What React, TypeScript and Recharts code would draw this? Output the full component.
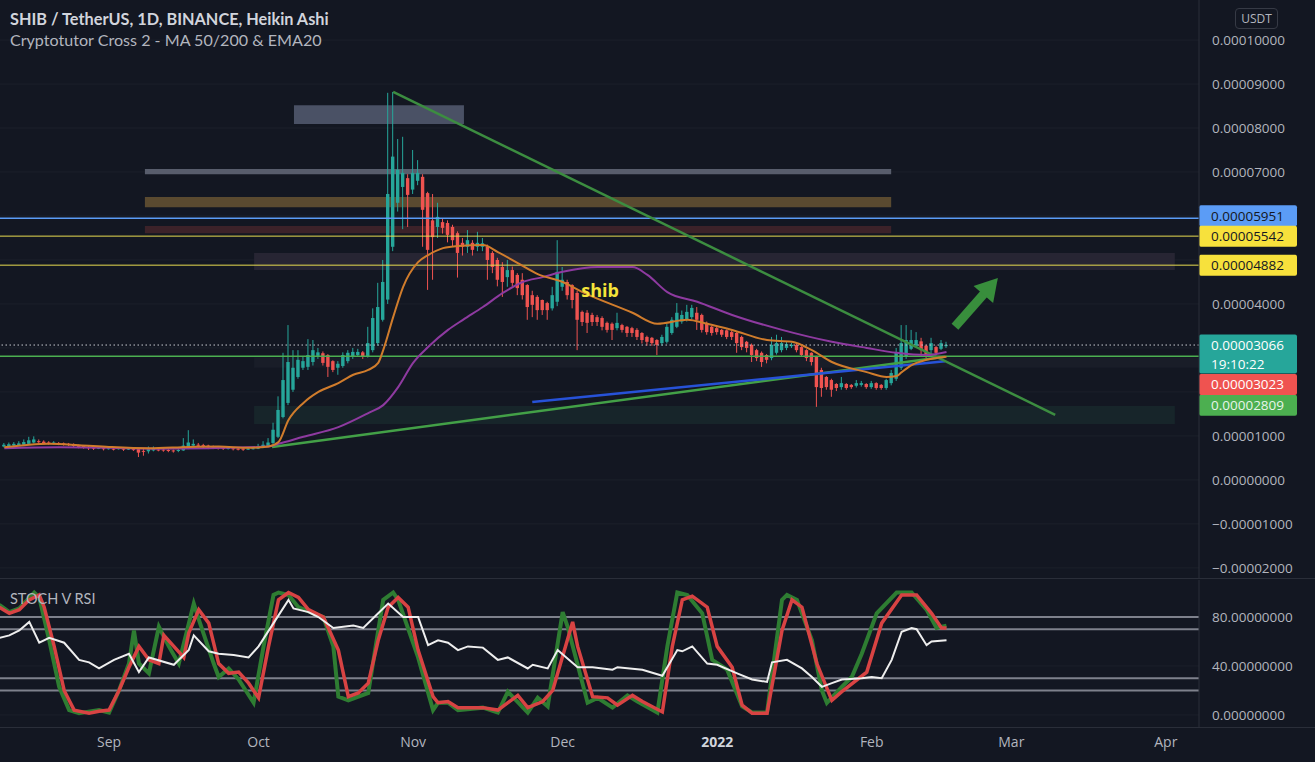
import React from 'react';
import {
  ComposedChart,
  LineChart,
  Line,
  Bar,
  XAxis,
  YAxis,
  CartesianGrid,
  ReferenceLine,
  ReferenceArea,
  ReferenceDot,
} from 'recharts';

// ---------- layout constants ----------
const W = 1315;
const H = 762;
const MAIN_H = 578;
const OSC_H = 184;
const AXIS_W = 116;
const BG = '#131722';
const UP = '#26a69a';
const DOWN = '#ef5350';
const TXT = '#b2b5be';
const FONT = "'Open Sans', 'Noto Sans', sans-serif";

// ---------- data (prices in units of 1e-5 USDT, days since 2021-09-01) ----------
const START_DAY = -21;
const X_DOMAIN: [number, number] = [-21.87, 218.65];

const haOpen = [
  0.76, 0.77, 0.78, 0.79, 0.8, 0.82, 0.85, 0.88, 0.87, 0.85,
  0.84, 0.84, 0.83, 0.82, 0.81, 0.79, 0.77, 0.75, 0.74, 0.72,
  0.72, 0.71, 0.71, 0.71, 0.71, 0.7, 0.7, 0.7, 0.66, 0.65,
  0.67, 0.69, 0.69, 0.68, 0.67, 0.66, 0.67, 0.72, 0.78, 0.8,
  0.79, 0.78, 0.76, 0.74, 0.73, 0.715, 0.72, 0.71, 0.71, 0.7,
  0.7, 0.71, 0.73, 0.77, 0.84, 0.98, 1.43, 1.75, 2.05, 2.34,
  2.55, 2.57, 2.68, 2.82, 2.88, 2.84, 2.7, 2.55, 2.59, 2.7,
  2.8, 2.84, 2.9, 2.8, 2.95, 3.11, 3.64, 4.1, 5.3, 6.3,
  6.66, 6.86, 6.6, 6.8, 6.89, 6.52, 5.9, 5.75, 5.86, 5.84,
  5.75, 5.61, 5.39, 5.3, 5.39, 5.3, 5.3, 5.3, 5.16, 5.0,
  4.84, 4.61, 4.77, 4.66, 4.55, 4.43, 4.2, 4.16, 4.09, 4.02,
  3.9, 4.05, 4.39, 4.5, 4.43, 4.25, 3.82, 3.8, 3.75, 3.7,
  3.68, 3.57, 3.55, 3.45, 3.52, 3.48, 3.45, 3.41, 3.34, 3.25,
  3.23, 3.18, 3.11, 3.14, 3.34, 3.48, 3.6, 3.64, 3.7, 3.8,
  3.75, 3.57, 3.48, 3.45, 3.41, 3.4, 3.36, 3.34, 3.25, 3.14,
  3.07, 2.95, 2.89, 2.84, 2.77, 2.89, 2.95, 3.0, 3.04, 3.07,
  3.02, 2.95, 2.89, 2.8, 2.5, 2.34, 2.27, 2.18, 2.11, 2.18,
  2.16, 2.14, 2.16, 2.18, 2.11, 2.2, 2.16, 2.09, 2.2, 2.3,
  2.55, 2.8, 2.98, 3.05, 3.15, 3.05, 2.95, 3.02, 2.98, 3.04,
];
const haClose = [
  0.8, 0.81, 0.82, 0.83, 0.86, 0.9, 0.92, 0.86, 0.84, 0.83,
  0.85, 0.82, 0.81, 0.8, 0.77, 0.75, 0.74, 0.72, 0.71, 0.73,
  0.7, 0.72, 0.7, 0.72, 0.69, 0.71, 0.69, 0.62, 0.64, 0.7,
  0.72, 0.68, 0.67, 0.66, 0.65, 0.68, 0.78, 0.85, 0.82, 0.78,
  0.76, 0.74, 0.73, 0.72, 0.71, 0.725, 0.7, 0.7, 0.69, 0.71,
  0.72, 0.76, 0.8, 0.85, 1.14, 1.59, 2.27, 2.68, 2.55, 2.73,
  2.7, 2.84, 2.95, 2.9, 2.66, 2.57, 2.5, 2.64, 2.84, 2.89,
  2.91, 2.91, 2.8, 3.11, 3.68, 3.93, 4.5, 6.5, 7.35, 7.05,
  6.98, 6.48, 6.98, 6.98, 6.14, 5.23, 5.52, 5.98, 5.73, 5.57,
  5.45, 5.16, 5.3, 5.45, 5.23, 5.39, 5.38, 5.0, 4.84, 4.55,
  4.5, 4.77, 4.48, 4.36, 4.2, 3.93, 3.98, 3.86, 3.86, 3.86,
  4.2, 4.73, 4.55, 4.2, 4.09, 3.64, 3.59, 3.57, 3.59, 3.59,
  3.48, 3.41, 3.41, 3.57, 3.41, 3.34, 3.34, 3.25, 3.18, 3.14,
  3.11, 3.07, 3.25, 3.48, 3.64, 3.8, 3.75, 3.82, 3.91, 3.64,
  3.41, 3.36, 3.34, 3.36, 3.3, 3.25, 3.25, 3.11, 3.02, 3.0,
  2.84, 2.77, 2.68, 2.73, 3.07, 3.11, 3.11, 3.09, 3.07, 2.95,
  2.84, 2.77, 2.68, 2.11, 2.09, 2.11, 2.05, 2.09, 2.2, 2.09,
  2.11, 2.2, 2.2, 2.11, 2.2, 2.09, 2.09, 2.27, 2.43, 2.89,
  3.11, 3.18, 3.18, 3.18, 2.95, 2.84, 3.11, 2.89, 3.11, 3.07,
];
const haHigh = [
  0.84, 0.85, 0.86, 0.88, 0.92, 0.98, 0.99, 0.92, 0.9, 0.88,
  0.88, 0.86, 0.85, 0.84, 0.83, 0.8, 0.79, 0.77, 0.76, 0.76,
  0.74, 0.75, 0.73, 0.74, 0.73, 0.73, 0.72, 0.73, 0.72, 0.76,
  0.76, 0.72, 0.71, 0.7, 0.69, 0.71, 0.95, 1.13, 0.92, 0.84,
  0.82, 0.8, 0.78, 0.76, 0.75, 0.75, 0.74, 0.73, 0.72, 0.74,
  0.76, 0.82, 0.88, 0.95, 1.3, 1.9, 2.89, 3.52, 2.95, 2.95,
  2.8, 3.2, 3.18, 3.0, 2.92, 2.86, 2.72, 2.7, 2.9, 2.95,
  3.0, 2.98, 2.93, 3.48, 3.9, 4.48, 5.0, 8.8, 8.82, 7.75,
  7.8, 6.95, 7.5, 7.27, 6.95, 6.55, 6.5, 6.3, 5.95, 5.9,
  5.8, 5.65, 5.5, 5.68, 5.45, 5.64, 5.5, 5.35, 5.2, 5.05,
  4.95, 5.0, 4.85, 4.7, 4.7, 4.45, 4.3, 4.2, 4.1, 4.05,
  4.39, 5.45, 4.84, 4.55, 4.45, 4.3, 3.85, 3.86, 3.8, 3.75,
  3.72, 3.6, 3.58, 3.8, 3.55, 3.5, 3.48, 3.45, 3.36, 3.28,
  3.25, 3.2, 3.3, 3.55, 3.7, 4.02, 3.85, 3.98, 3.98, 3.93,
  3.78, 3.6, 3.5, 3.48, 3.43, 3.42, 3.4, 3.36, 3.28, 3.16,
  3.1, 2.98, 2.92, 2.86, 3.25, 3.3, 3.25, 3.15, 3.12, 3.1,
  3.04, 2.97, 2.9, 2.82, 2.55, 2.36, 2.3, 2.2, 2.34, 2.2,
  2.18, 2.27, 2.25, 2.2, 2.25, 2.22, 2.18, 2.3, 2.5, 3.0,
  3.52, 3.52, 3.41, 3.36, 3.23, 3.07, 3.23, 3.05, 3.18, 3.14,
];
const haLow = [
  0.74, 0.75, 0.76, 0.77, 0.78, 0.8, 0.83, 0.82, 0.81, 0.8,
  0.81, 0.79, 0.78, 0.77, 0.74, 0.72, 0.71, 0.68, 0.68, 0.7,
  0.67, 0.69, 0.67, 0.69, 0.66, 0.68, 0.66, 0.52, 0.55, 0.6,
  0.65, 0.65, 0.64, 0.63, 0.62, 0.63, 0.66, 0.7, 0.75, 0.74,
  0.72, 0.7, 0.7, 0.69, 0.68, 0.69, 0.67, 0.67, 0.66, 0.68,
  0.69, 0.7, 0.72, 0.75, 0.8, 0.95, 1.4, 1.7, 2.0, 2.3,
  2.5, 2.5, 2.6, 2.75, 2.6, 2.34, 2.45, 2.39, 2.55, 2.65,
  2.75, 2.8, 2.75, 2.78, 2.9, 3.05, 3.6, 4.0, 5.2, 6.1,
  5.7, 5.75, 6.5, 6.7, 5.3, 4.32, 4.55, 5.5, 5.6, 5.4,
  5.3, 4.6, 5.1, 5.16, 5.1, 5.2, 5.2, 4.55, 4.7, 4.4,
  4.16, 4.39, 4.4, 4.2, 4.1, 3.64, 3.7, 3.64, 3.75, 3.64,
  3.85, 3.95, 4.3, 4.1, 3.9, 2.95, 3.5, 3.34, 3.5, 3.5,
  3.4, 3.35, 3.18, 3.4, 3.35, 3.25, 3.25, 3.18, 3.1, 3.05,
  3.05, 2.84, 3.05, 3.1, 3.3, 3.45, 3.55, 3.6, 3.65, 3.41,
  3.35, 3.3, 3.28, 3.3, 3.25, 3.2, 3.18, 2.89, 2.95, 2.9,
  2.68, 2.7, 2.57, 2.65, 2.72, 2.85, 2.9, 2.95, 3.0, 2.9,
  2.8, 2.7, 2.6, 1.66, 1.89, 2.05, 1.89, 2.02, 2.05, 2.05,
  2.07, 2.1, 2.12, 2.07, 2.07, 2.05, 2.05, 2.05, 2.15, 2.25,
  2.5, 2.75, 2.95, 3.0, 2.8, 2.77, 2.84, 2.85, 2.95, 3.0,
];

// EMA20 (orange) and MA50 (purple): [day, price]
const ema20: [number, number][] = [
  [-21, 0.74], [-16, 0.8], [-12, 0.82], [-6, 0.79], [0, 0.75], [8, 0.72], [16, 0.75], [22, 0.76],
  [28, 0.73], [32, 0.76], [34, 0.86], [36, 1.36], [39, 1.75], [42, 2.0], [46, 2.2], [49, 2.39],
  [52, 2.5], [54, 2.66], [55, 2.95], [57, 3.7], [59, 4.39], [62, 4.95], [64, 5.11], [67, 5.27],
  [70, 5.32], [75, 5.34], [78, 5.18], [82, 4.93], [86, 4.68], [91, 4.5], [95, 4.27], [105, 3.8],
  [110, 3.55], [116, 3.64], [120, 3.55], [125, 3.41], [132, 3.18], [137, 3.14], [141, 2.95],
  [145, 2.68], [152, 2.45], [156, 2.34], [158, 2.36], [159, 2.45], [161, 2.61], [164, 2.73],
  [168, 2.8],
];
const ma50: [number, number][] = [
  [-21, 0.72], [-10, 0.74], [0, 0.73], [10, 0.71], [20, 0.72], [32, 0.76], [34, 0.82], [39, 0.98],
  [46, 1.2], [52, 1.52], [55, 1.7], [58, 2.11], [61, 2.66], [64, 3.02], [68, 3.41], [71, 3.64],
  [75, 3.93], [79, 4.25], [83, 4.5], [87, 4.61], [91, 4.73], [98, 4.84], [105, 4.84], [108, 4.66],
  [112, 4.27], [118, 4.05], [125, 3.75], [135, 3.41], [145, 3.14], [152, 3.0], [158, 2.89],
  [164, 2.84], [168, 2.91],
];

// STOCH V RSI pane: [day, value]
const stochK: [number, number][] = [
  [-22, 90], [-20, 84], [-18, 87], [-15, 100], [-14, 96], [-12, 61], [-10, 23], [-8, 4], [-6, 1.5],
  [-2, 4], [0, 2], [2, 20], [4, 42], [5, 69], [6, 42], [8, 34], [10, 72], [12, 56], [14, 42],
  [17, 91], [18, 78], [21, 42], [22, 31], [24, 38], [26, 29], [29, 10], [31, 56], [33, 98],
  [34, 100], [36, 98], [38, 88], [41, 83], [43, 80], [45, 56], [46, 15], [48, 12], [52, 18],
  [54, 69], [55, 94], [57, 100], [58, 94], [62, 47], [65, 4], [66, 10], [68, 10], [70, 4],
  [75, 6], [78, 2], [80, 19], [84, 2], [86, 14], [88, 7], [91, 84], [92, 72], [96, 10], [98, 14],
  [101, 6], [104, 16], [106, 11], [110, 2], [112, 56], [114, 100], [116, 98], [119, 83],
  [121, 45], [124, 37], [127, 7], [129, 2], [132, 2], [135, 94], [136, 98], [138, 94], [141, 61],
  [143, 20], [144, 10], [147, 23], [149, 31], [151, 50], [154, 83], [158, 100], [161, 100],
  [164, 86], [166, 71], [168, 73],
];
const stochD: [number, number][] = [
  [-22, 88], [-20, 83], [-18, 86], [-16, 94], [-14, 98], [-13, 88], [-11, 56], [-9, 20], [-7, 4],
  [-4, 1.5], [-2, 3], [0, 4], [2, 20], [4, 39], [6, 56], [8, 45], [10, 42], [11, 65], [13, 56],
  [15, 47], [16, 67], [18, 86], [20, 75], [22, 42], [24, 34], [26, 35], [28, 26], [30, 14],
  [32, 56], [34, 94], [36, 100], [38, 96], [40, 86], [43, 80], [46, 53], [48, 15], [50, 18],
  [52, 26], [54, 61], [56, 88], [58, 96], [60, 88], [62, 53], [65, 15], [66, 10], [68, 11],
  [70, 6], [75, 6], [78, 4], [82, 16], [84, 6], [87, 11], [89, 20], [93, 76], [94, 56], [97, 15],
  [100, 14], [102, 8], [105, 16], [107, 11], [111, 2.5], [113, 56], [115, 94], [117, 97],
  [120, 88], [122, 56], [125, 39], [127, 8], [129, 1.5], [132, 1.5], [135, 69], [137, 94],
  [139, 88], [142, 42], [145, 12], [147, 19], [152, 35], [155, 75], [159, 98], [162, 98],
  [165, 83], [167, 71], [168, 71],
];
const rsiLine: [number, number][] = [
  [-22, 63], [-20, 65], [-18, 69], [-16, 76], [-14, 59], [-12, 63], [-9, 59], [-6, 45], [-4, 43],
  [-2, 38], [1, 45], [4, 50], [6, 35], [8, 47], [13, 41], [16, 53], [17, 65], [20, 52], [22, 50],
  [25, 49], [28, 47], [30, 56], [33, 75], [36, 94], [37, 87], [40, 84], [42, 80], [45, 71],
  [49, 73], [51, 71], [54, 83], [56, 91], [59, 80], [62, 80], [64, 57], [66, 61], [68, 59],
  [70, 53], [72, 56], [75, 55], [78, 45], [80, 47], [84, 38], [85, 41], [88, 38], [90, 53],
  [94, 39], [97, 39], [101, 37], [102, 39], [107, 37], [111, 32], [114, 53], [115, 52], [117, 56],
  [120, 42], [122, 41], [126, 34], [129, 29], [132, 27], [133, 43], [136, 45], [139, 38],
  [141, 31], [143, 23], [145, 26], [147, 29], [151, 30], [153, 31], [155, 30], [157, 45],
  [159, 68], [161, 71], [162, 70], [164, 57], [165, 60], [168, 61],
];

// axis ticks
const monthTicks = [0, 30, 61, 91, 122, 153, 181, 212];
const monthLabels = ['Sep', 'Oct', 'Nov', 'Dec', '2022', 'Feb', 'Mar', 'Apr'];
const priceTicks = [10, 9, 8, 7, 4, 1, 0, -1, -2];
const priceGrid = [-2, -1, 0, 1, 2, 3, 4, 5, 6, 7, 8, 9, 10];
const oscTicks = [0, 40, 80];
const oscBands = [80, 70, 30, 20];

// drawn levels
const levelBlue = 5.951;
const levelYellow1 = 5.542;
const levelYellow2 = 4.882;
const lastPrice = 3.066;
const redLevel = 3.023;
const greenLevel = 2.809;

// ---------- derived ----------
const candles = haOpen.map((o, i) => ({
  d: START_DAY + i,
  o,
  c: haClose[i],
  h: haHigh[i],
  l: haLow[i],
}));
const toPts = (arr: [number, number][]) => arr.map(([d, v]) => ({ d, v }));

const fmtPrice = (v: number) =>
  (v < 0 ? '\u2212' : '') + (Math.abs(v) * 1e-5).toFixed(8);

// ---------- shapes ----------
const Candle = (props: any) => {
  const { x, y, width, height, payload } = props;
  if (!payload || x == null || y == null) return null;
  const { o, c, h, l } = payload;
  const top = Math.min(y, y + height);
  const hgt = Math.abs(height);
  const range = h - l || 1e-9;
  const per = hgt / range;
  const yO = top + (h - o) * per;
  const yC = top + (h - c) * per;
  const color = c >= o ? UP : DOWN;
  const cx = x + width / 2;
  const bw = 3.4;
  const bTop = Math.min(yO, yC);
  const bH = Math.max(1, Math.abs(yO - yC));
  return (
    <g>
      <line x1={cx} x2={cx} y1={top} y2={top + hgt} stroke={color} strokeWidth={1} />
      <rect x={cx - bw / 2} y={bTop} width={bw} height={bH} fill={color} />
    </g>
  );
};

const Arrow = (p: any) => {
  const { x1, y1, x2, y2 } = p;
  if ([x1, y1, x2, y2].some((v) => v == null || isNaN(v))) return null;
  const ang = Math.atan2(y2 - y1, x2 - x1);
  const head = 22;
  const half = 13;
  const bx = x2 - head * Math.cos(ang);
  const by = y2 - head * Math.sin(ang);
  const nx = -Math.sin(ang);
  const ny = Math.cos(ang);
  const col = '#388e3c';
  return (
    <g>
      <line x1={x1} y1={y1} x2={bx + 2 * Math.cos(ang)} y2={by + 2 * Math.sin(ang)} stroke={col} strokeWidth={9} />
      <polygon
        points={`${x2},${y2} ${bx + nx * half},${by + ny * half} ${bx - nx * half},${by - ny * half}`}
        fill={col}
      />
    </g>
  );
};

const priceTag =
  (text: string, bg: string, fg: string, dy: number, sub?: string) =>
  (props: any) => {
    const vb = props.viewBox || {};
    const x = (vb.x || 0) + (vb.width || 0);
    const y = (vb.y || 0) + dy;
    const hh = sub ? 39 : 21;
    return (
      <g>
        <rect x={x} y={y - 10.5} width={98} height={hh} fill={bg} rx={2} />
        <text x={x + 12} y={y + 5} fill={fg} fontSize={13.5} fontFamily={FONT}>
          {text}
        </text>
        {sub ? (
          <text x={x + 12} y={y + 24} fill={fg} fontSize={13.5} fontFamily={FONT}>
            {sub}
          </text>
        ) : null}
      </g>
    );
  };

const ShibText = (p: any) => (
  <text
    x={p.cx}
    y={p.cy}
    textAnchor="middle"
    dominantBaseline="central"
    fill="#f5e43a"
    fontSize={18}
    fontWeight={700}
    fontFamily={FONT}
  >
    shib
  </text>
);

const MonthTick = (props: any) => {
  const { x, y, payload } = props;
  const idx = monthTicks.indexOf(payload.value);
  const label = idx >= 0 ? monthLabels[idx] : '';
  return (
    <text
      x={x}
      y={y}
      dy={12}
      textAnchor="middle"
      fill={label === '2022' ? '#d1d4dc' : TXT}
      fontSize={14}
      fontWeight={label === '2022' ? 700 : 400}
      fontFamily={FONT}
    >
      {label}
    </text>
  );
};

// ---------- App ----------
export default function App() {
  const green = '#3c8d40';
  return (
    <div
      style={{
        position: 'fixed',
        left: 0,
        top: 0,
        width: W,
        height: H,
        background: BG,
        overflow: 'hidden',
        fontFamily: FONT,
      }}
    >
      <div style={{ position: 'absolute', left: 0, top: 0 }}>
        <ComposedChart width={W} height={MAIN_H} data={candles} margin={{ top: 0, right: 0, bottom: 0, left: 0 }}>
          <CartesianGrid stroke="#1c202b" vertical={false} horizontalValues={priceGrid} />
          <XAxis type="number" dataKey="d" domain={X_DOMAIN} allowDataOverflow hide />
          <YAxis
            orientation="right"
            width={AXIS_W}
            domain={[-2.23, 10.91]}
            allowDataOverflow
            ticks={priceTicks}
            interval={0}
            tickFormatter={fmtPrice}
            tickLine={false}
            tickMargin={7}
            axisLine={{ stroke: '#2a2e39' }}
            tick={{ fill: TXT, fontSize: 13.5, fontFamily: FONT, textAnchor: 'start' }}
          />

          {/* zones */}
          <ReferenceArea x1={37.1} x2={71.2} y1={8.09} y2={8.52} fill="#4a5165" fillOpacity={1} stroke="none" />
          <ReferenceArea x1={7.2} x2={156.9} y1={6.95} y2={7.07} fill="#585d6c" fillOpacity={1} stroke="none" />
          <ReferenceArea x1={7.2} x2={156.9} y1={6.2} y2={6.43} fill="#5a4a30" fillOpacity={1} stroke="none" />
          <ReferenceArea x1={7.2} x2={156.9} y1={5.61} y2={5.77} fill="#3c2229" fillOpacity={1} stroke="none" />
          <ReferenceArea x1={29.1} x2={213.8} y1={4.77} y2={5.16} fill="#272533" fillOpacity={1} stroke="none" />
          <ReferenceArea x1={29.1} x2={218.65} y1={2.55} y2={2.78} fill="#191d28" fillOpacity={1} stroke="none" />
          <ReferenceArea x1={29.1} x2={213.8} y1={1.27} y2={1.68} fill="#17252a" fillOpacity={1} stroke="none" />

          {/* horizontal levels */}
          <ReferenceLine y={levelBlue} stroke="#5b9cf6" strokeWidth={1.5} label={priceTag('0.00005951', '#5b9cf6', '#131722', -2.5)} />
          <ReferenceLine y={levelYellow1} stroke="#e8dc50" strokeWidth={1} label={priceTag('0.00005542', '#f7e13c', '#131722', 0)} />
          <ReferenceLine y={levelYellow2} stroke="#e8dc50" strokeWidth={1} label={priceTag('0.00004882', '#f7e13c', '#131722', 0)} />
          <ReferenceLine y={greenLevel} stroke="#4caf50" strokeWidth={1.5} label={priceTag('0.00002809', '#4caf50', '#e8f5e9', 49)} />
          <ReferenceLine y={redLevel} stroke="none" label={priceTag('0.00003023', '#ef5350', '#ffffff', 37.5)} />
          <ReferenceLine
            y={lastPrice}
            stroke="#c9ccd3"
            strokeWidth={1}
            strokeDasharray="1.5 2.5"
            label={priceTag('0.00003066', '#26a69a', '#ffffff', 0, '19:10:22')}
          />

          {/* trend lines */}
          <ReferenceLine segment={[{ x: 32.7, y: 0.75 }, { x: 167.7, y: 2.8 }]} stroke="#43a047" strokeWidth={2.5} />
          <ReferenceLine segment={[{ x: 84.9, y: 1.77 }, { x: 167.7, y: 2.7 }]} stroke="#2752d8" strokeWidth={2.5} />
          <ReferenceLine segment={[{ x: 57, y: 8.82 }, { x: 189.8, y: 1.48 }]} stroke={green} strokeWidth={2.5} />

          {/* moving averages */}
          <Line data={toPts(ma50)} dataKey="v" type="monotone" stroke="#8e3aa0" strokeWidth={2} dot={false} activeDot={false} isAnimationActive={false} />
          <Line data={toPts(ema20)} dataKey="v" type="monotone" stroke="#d07c2c" strokeWidth={2} dot={false} activeDot={false} isAnimationActive={false} />

          {/* candles */}
          <Bar dataKey={(p: any) => [p.l, p.h]} barSize={4} shape={<Candle />} activeBar={false} isAnimationActive={false} />

          {/* annotations */}
          <ReferenceLine segment={[{ x: 169.7, y: 3.48 }, { x: 178.3, y: 4.59 }]} shape={<Arrow />} />
          <ReferenceDot x={98.5} y={4.32} r={0} shape={<ShibText />} />
        </ComposedChart>
      </div>

      <div style={{ position: 'absolute', left: 0, top: MAIN_H }}>
        <LineChart width={W} height={OSC_H} margin={{ top: 2, right: 0, bottom: 0, left: 0 }}>
          <CartesianGrid stroke="#1c202b" vertical={false} horizontalValues={oscTicks} />
          <XAxis
            type="number"
            dataKey="d"
            domain={X_DOMAIN}
            allowDataOverflow
            ticks={monthTicks}
            interval={0}
            height={35}
            tickLine={false}
            axisLine={false}
            tick={<MonthTick />}
          />
          <YAxis
            orientation="right"
            width={AXIS_W}
            domain={[-9.8, 110.2]}
            allowDataOverflow
            ticks={oscTicks}
            interval={0}
            tickFormatter={(v: number) => v.toFixed(8)}
            tickLine={false}
            tickMargin={7}
            axisLine={{ stroke: '#2a2e39' }}
            tick={{ fill: TXT, fontSize: 13.5, fontFamily: FONT, textAnchor: 'start' }}
          />
          {oscBands.map((b) => (
            <ReferenceLine key={b} y={b} stroke="#7e818c" strokeWidth={2} />
          ))}
          <Line data={toPts(stochK)} dataKey="v" type="linear" stroke="#2e7d32" strokeWidth={4} dot={false} activeDot={false} isAnimationActive={false} />
          <Line data={toPts(stochD)} dataKey="v" type="linear" stroke="#d84343" strokeWidth={3.5} dot={false} activeDot={false} isAnimationActive={false} />
          <Line data={toPts(rsiLine)} dataKey="v" type="linear" stroke="#eeeeee" strokeWidth={2} dot={false} activeDot={false} isAnimationActive={false} />
        </LineChart>
      </div>

      {/* pane separators */}
      <div style={{ position: 'absolute', left: 0, top: MAIN_H, width: W, height: 1, background: '#2a2e39' }} />
      <div style={{ position: 'absolute', left: 0, top: 727, width: W, height: 1, background: '#2a2e39' }} />

      {/* titles */}
      <div
        style={{
          position: 'absolute',
          left: 10,
          top: 9,
          fontFamily: "Lato, 'Open Sans', sans-serif",
          fontSize: 16.3,
          fontWeight: 700,
          color: '#d1d4dc',
          lineHeight: '20px',
          whiteSpace: 'nowrap',
        }}
      >
        SHIB / TetherUS, 1D, BINANCE, Heikin Ashi
      </div>
      <div
        style={{
          position: 'absolute',
          left: 10,
          top: 30,
          fontFamily: "Lato, 'Open Sans', sans-serif",
          fontSize: 16.1,
          color: TXT,
          lineHeight: '20px',
          whiteSpace: 'nowrap',
        }}
      >
        Cryptotutor Cross 2 - MA 50/200 &amp; EMA20
      </div>
      <div
        style={{
          position: 'absolute',
          left: 10,
          top: 590,
          fontFamily: "Lato, 'Open Sans', sans-serif",
          fontSize: 14.5,
          color: TXT,
          lineHeight: '18px',
          whiteSpace: 'nowrap',
        }}
      >
        STOCH V RSI
      </div>
      <div
        style={{
          position: 'absolute',
          left: 1235,
          top: 8,
          width: 41,
          height: 19,
          border: '1px solid #363a45',
          borderRadius: 4,
          color: TXT,
          fontSize: 12,
          lineHeight: '19px',
          textAlign: 'center',
          fontFamily: FONT,
        }}
      >
        USDT
      </div>
    </div>
  );
}
